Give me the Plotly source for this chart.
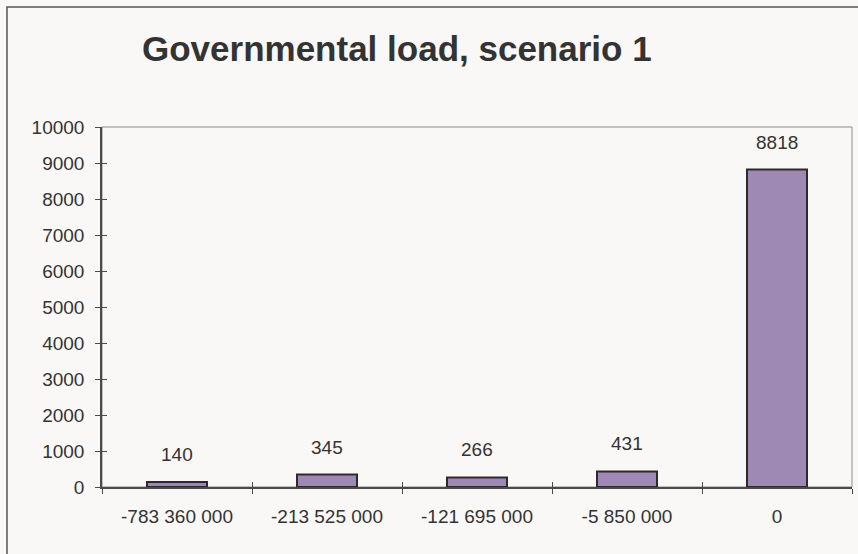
import plotly.graph_objects as go

categories = ["-783 360 000", "-213 525 000", "-121 695 000", "-5 850 000", "0"]
values = [140, 345, 266, 431, 8818]
y_ticks = [0, 1000, 2000, 3000, 4000, 5000, 6000, 7000, 8000, 9000, 10000]
title_text = "Governmental load, scenario 1"

BG = "#F9F8F7"
TXT = "#333333"
AX = "#4a4a4a"
FONT = "Liberation Sans, Arial, sans-serif"

fig = go.Figure()
fig.add_trace(go.Bar(
    x=categories, y=values, width=0.4,
    marker=dict(color="#9E89B4", line=dict(color="#2b2b2b", width=2)),
    hoverinfo="skip", showlegend=False,
))
# invisible twin for inside-crossing ticks
fig.add_trace(go.Bar(
    x=categories, y=values, width=0.4, xaxis="x2", yaxis="y2",
    marker=dict(color="rgba(0,0,0,0)", line=dict(width=0)), hoverinfo="skip", showlegend=False,
))

for i, v in enumerate(values):
    fig.add_annotation(x=i, y=v, text=str(v), showarrow=False, yanchor="bottom",
                       yshift=15, font=dict(family=FONT, size=19, color=TXT))

fig.add_annotation(x=0.3927, y=1.2167, xref="paper", yref="paper", text="<b>%s</b>" % title_text,
                   showarrow=False, xanchor="center", yanchor="middle",
                   font=dict(family=FONT, size=35, color=TXT))

# plot box (top/right gray)
fig.add_shape(type="rect", xref="paper", yref="paper", x0=0, x1=1, y0=0, y1=1,
              line=dict(color="#8a8a8a", width=1), layer="below")
# outer chart border (extends past the window on right/bottom)
fig.add_shape(type="rect", xref="paper", yref="paper", x0=-0.1267, x1=1.2, y0=-0.5, y1=1.3333,
              line=dict(color="#555555", width=1.5), layer="below")

fig.update_layout(
    width=858, height=554,
    margin=dict(l=102, r=6, t=127, b=67),
    paper_bgcolor=BG, plot_bgcolor=BG,
    bargap=0.6,
    xaxis=dict(type="category", tickson="boundaries", ticks="outside", ticklen=5,
               tickcolor=AX, tickwidth=1, showline=True, linecolor=AX, linewidth=1.5,
               showgrid=False, tickfont=dict(family=FONT, size=19, color=TXT),
               ticklabelstandoff=11, range=[-0.5, 4.5]),
    xaxis2=dict(type="category", overlaying="x", side="bottom", tickson="boundaries",
                ticks="inside", ticklen=5, tickcolor=AX, tickwidth=1, showticklabels=False,
                showline=False, showgrid=False, range=[-0.5, 4.5]),
    yaxis=dict(range=[0, 10000], tickvals=y_ticks, ticktext=[str(t) for t in y_ticks],
               ticks="outside", ticklen=5,
               tickcolor=AX, tickwidth=1, showline=True, linecolor=AX, linewidth=1.5,
               showgrid=False, zeroline=False, tickfont=dict(family=FONT, size=19, color=TXT),
               ticklabelstandoff=7),
    yaxis2=dict(range=[0, 10000], overlaying="y", side="left", tickvals=y_ticks,
                ticks="inside", ticklen=5, tickcolor=AX, tickwidth=1, showticklabels=False,
                showline=False, showgrid=False, zeroline=False),
)

fig.write_html("out.html")
